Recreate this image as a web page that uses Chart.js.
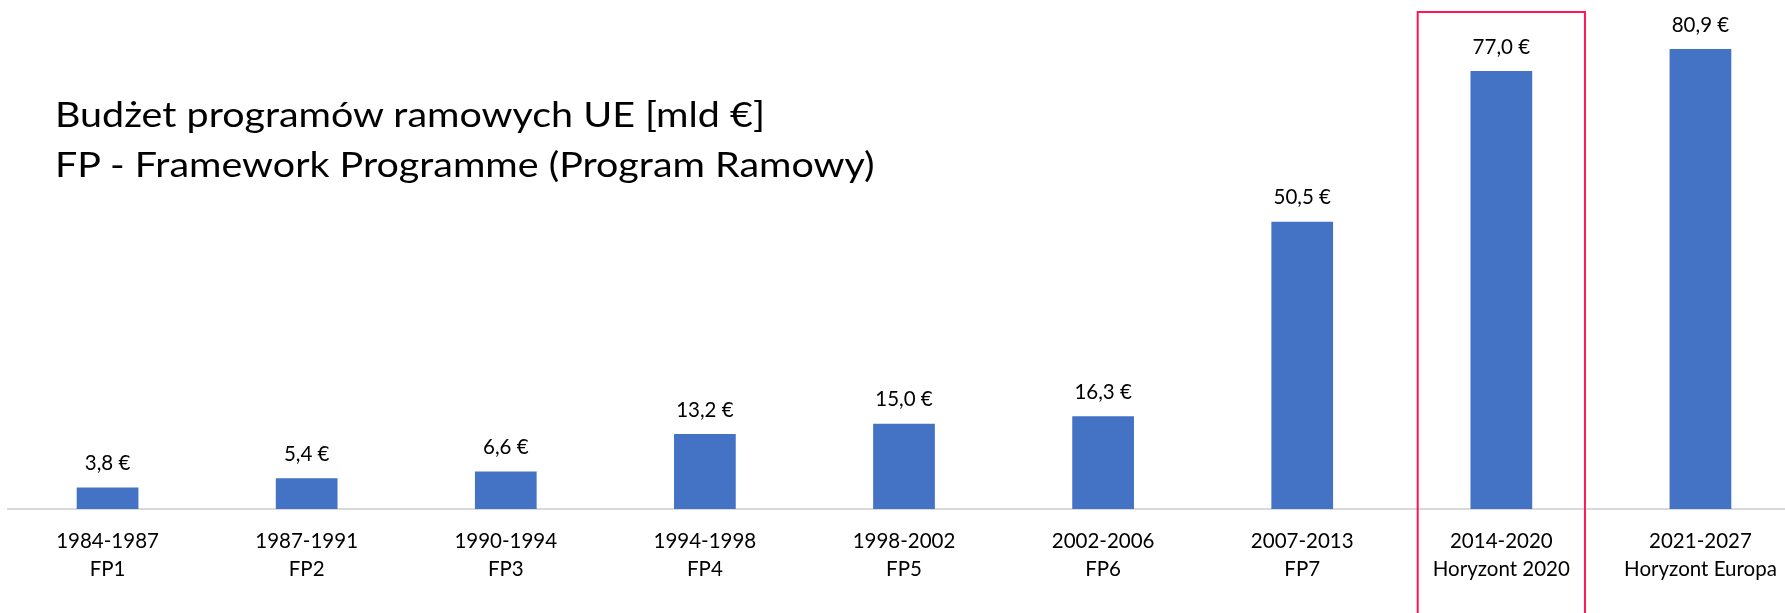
<!DOCTYPE html>
<html>
<head>
<meta charset="utf-8">
<script src="https://cdn.jsdelivr.net/npm/chart.js@4/dist/chart.umd.min.js"></script>
<style>
  html, body { margin: 0; padding: 0; background: #fff; overflow: hidden; }
  #wrap { position: relative; width: 1800px; height: 613px; }
  #title {
    position: absolute; left: 55px; top: 89px;
    font-family: Lato, sans-serif; font-size: 34px; line-height: 50px;
    color: #000; white-space: nowrap;
    transform: scaleX(1.16); transform-origin: left top;
  }
</style>
</head>
<body>
<div id="wrap">
  <canvas id="chart" width="1800" height="613"></canvas>
  <div id="title">Budżet programów ramowych UE [mld €]<br>FP - Framework Programme (Program Ramowy)</div>
</div>
<script>
// periods and programme names (two-line axis labels)
const periods = ['1984-1987', '1987-1991', '1990-1994', '1994-1998', '1998-2002',
                 '2002-2006', '2007-2013', '2014-2020', '2021-2027'];
const programmes = ['FP1', 'FP2', 'FP3', 'FP4', 'FP5', 'FP6', 'FP7',
                    'Horyzont 2020', 'Horyzont Europa'];
// budget in billion euro
const budgets = [3.8, 5.4, 6.6, 13.2, 15.0, 16.3, 50.5, 77.0, 80.9];
// the programme framed in red
const highlighted = 7;

const labelFont = { family: 'Lato, sans-serif', size: 20.5, lineHeight: 1.34 };

// value labels above the bars, "3,8 €"
const valueLabels = {
  id: 'valueLabels',
  afterDatasetsDraw(chart) {
    const ctx = chart.ctx;
    const meta = chart.getDatasetMeta(0);
    ctx.save();
    ctx.font = labelFont.size + 'px ' + labelFont.family;
    ctx.fillStyle = '#000';
    ctx.textAlign = 'center';
    ctx.textBaseline = 'middle';
    meta.data.forEach((bar, i) => {
      const txt = budgets[i].toFixed(1).replace('.', ',') + ' €';
      ctx.fillText(txt, bar.x, bar.y - 24);
    });
    ctx.restore();
  }
};

// red frame around the highlighted category
const highlightBox = {
  id: 'highlightBox',
  afterDraw(chart) {
    const x = chart.scales.x;
    const cx = x.getPixelForValue(highlighted);
    const half = x.width / periods.length * 0.42;
    const ctx = chart.ctx;
    ctx.save();
    ctx.strokeStyle = '#ff1654';
    ctx.lineWidth = 2;
    ctx.strokeRect(cx - half, 12, half * 2, chart.height);
    ctx.restore();
  }
};

new Chart(document.getElementById('chart'), {
  type: 'bar',
  data: {
    labels: periods.map((p, i) => [p, programmes[i]]),
    datasets: [{
      data: budgets,
      backgroundColor: '#4472c4',
      borderWidth: 0,
      barPercentage: 0.31,
      categoryPercentage: 1
    }]
  },
  options: {
    responsive: false,
    animation: false,
    layout: { padding: { left: 8, right: 0, top: 0, bottom: 0 } },
    plugins: { legend: { display: false }, tooltip: { enabled: false } },
    scales: {
      x: {
        grid: { display: false, drawTicks: false },
        border: { display: true, color: '#d9d9d9', width: 2 },
        ticks: { color: '#000', font: labelFont, padding: 19, maxRotation: 0, autoSkip: false },
        afterFit(scale) { scale.height = 104; }
      },
      y: { display: false, min: 0, max: 89.5 }
    }
  },
  plugins: [valueLabels, highlightBox]
});
</script>
</body>
</html>
